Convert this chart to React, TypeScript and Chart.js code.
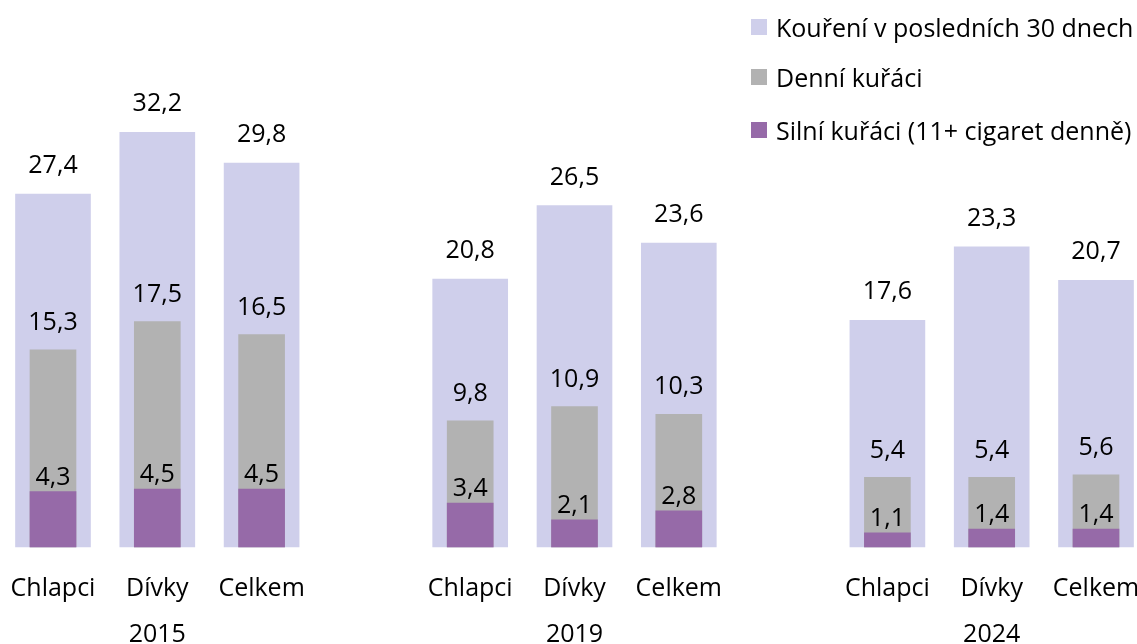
import React, { useEffect, useRef } from "react";
import { Chart, registerables } from "chart.js";

Chart.register(...registerables);

const groups = ["Chlapci", "Dívky", "Celkem"];
const years = ["2015", "2019", "2024"];
const smoking30: (number | null)[] = [27.4, 32.2, 29.8, null, 20.8, 26.5, 23.6, null, 17.6, 23.3, 20.7];
const daily: (number | null)[] = [15.3, 17.5, 16.5, null, 9.8, 10.9, 10.3, null, 5.4, 5.4, 5.6];
const heavy: (number | null)[] = [4.3, 4.5, 4.5, null, 3.4, 2.1, 2.8, null, 1.1, 1.4, 1.4];
const seriesNames = [
  "Kouření v posledních 30 dnech",
  "Denní kuřáci",
  "Silní kuřáci (11+ cigaret denně)",
];
const colors = ["#CFCFEB", "#B2B2B2", "#966AA8"];

const FONT = "'Open Sans', sans-serif";
const FONT_SIZE = 25;
const LABEL_OFFSETS = [28, 27, 14];

const labels: (string | string[])[] = [];
years.forEach((y, gi) => {
  groups.forEach((g, i) => labels.push(i === 1 ? [g, y] : g));
  if (gi < years.length - 1) labels.push("");
});

const fmt = (v: number) => v.toFixed(1).replace(".", ",");

const valueLabels = {
  id: "valueLabels",
  afterDatasetsDraw(chart: any) {
    const ctx = chart.ctx;
    ctx.save();
    ctx.font = `${FONT_SIZE}px ${FONT}`;
    ctx.fillStyle = "#000";
    ctx.textAlign = "center";
    ctx.textBaseline = "middle";
    chart.data.datasets.forEach((ds: any, di: number) => {
      const meta = chart.getDatasetMeta(di);
      meta.data.forEach((el: any, i: number) => {
        const v = ds.data[i];
        if (v == null) return;
        ctx.fillText(fmt(v), el.x, el.y - LABEL_OFFSETS[di]);
      });
    });
    ctx.restore();
  },
};

export default function App() {
  const ref = useRef<HTMLCanvasElement>(null);
  useEffect(() => {
    if (!ref.current) return;
    const values = [smoking30, daily, heavy];
    const thick = [75, 46, 46];
    const chart = new Chart(ref.current, {
      type: "bar",
      data: {
        labels,
        datasets: values.map((d, i) => ({
          label: seriesNames[i],
          data: d,
          backgroundColor: colors[i],
          borderWidth: 0,
          barThickness: thick[i],
          grouped: false,
          order: 3 - i,
          clip: false as any,
        })),
      },
      options: {
        animation: false,
        responsive: false,
        maintainAspectRatio: false,
        layout: { padding: { left: 53, right: 41, top: 6, bottom: 0 } },
        plugins: { legend: { display: false }, tooltip: { enabled: false } },
        scales: {
          x: {
            offset: false,
            grid: { display: false, drawTicks: false },
            border: { display: false },
            afterFit: (scale: any) => {
              scale.paddingLeft = 0;
              scale.paddingRight = 0;
              scale.height = 97;
            },
            ticks: {
              padding: 19,
              color: "#000",
              autoSkip: false,
              maxRotation: 0,
              font: { family: FONT, size: FONT_SIZE, lineHeight: 46 / FONT_SIZE },
            },
          },
          y: {
            display: false,
            min: 0,
            max: 42,
          },
        },
      },
      plugins: [valueLabels],
    });
    return () => chart.destroy();
  }, []);

  const rowCenters = [27, 77, 130];
  return (
    <div
      style={{
        position: "fixed",
        left: 0,
        top: 0,
        width: 1137,
        height: 644,
        overflow: "hidden",
        background: "#fff",
      }}
    >
      <canvas ref={ref} width={1137} height={644} style={{ display: "block" }} />
      {seriesNames.map((n, i) => (
        <div
          key={n}
          style={{
            position: "absolute",
            left: 751,
            top: rowCenters[i] - 17,
            height: 34,
            display: "flex",
            alignItems: "center",
            whiteSpace: "nowrap",
            fontFamily: FONT,
            fontSize: FONT_SIZE,
            color: "#000",
          }}
        >
          <span
            style={{
              display: "inline-block",
              width: 16,
              height: 16,
              background: colors[i],
              marginRight: 9,
            }}
          />
          <span>{n}</span>
        </div>
      ))}
    </div>
  );
}
